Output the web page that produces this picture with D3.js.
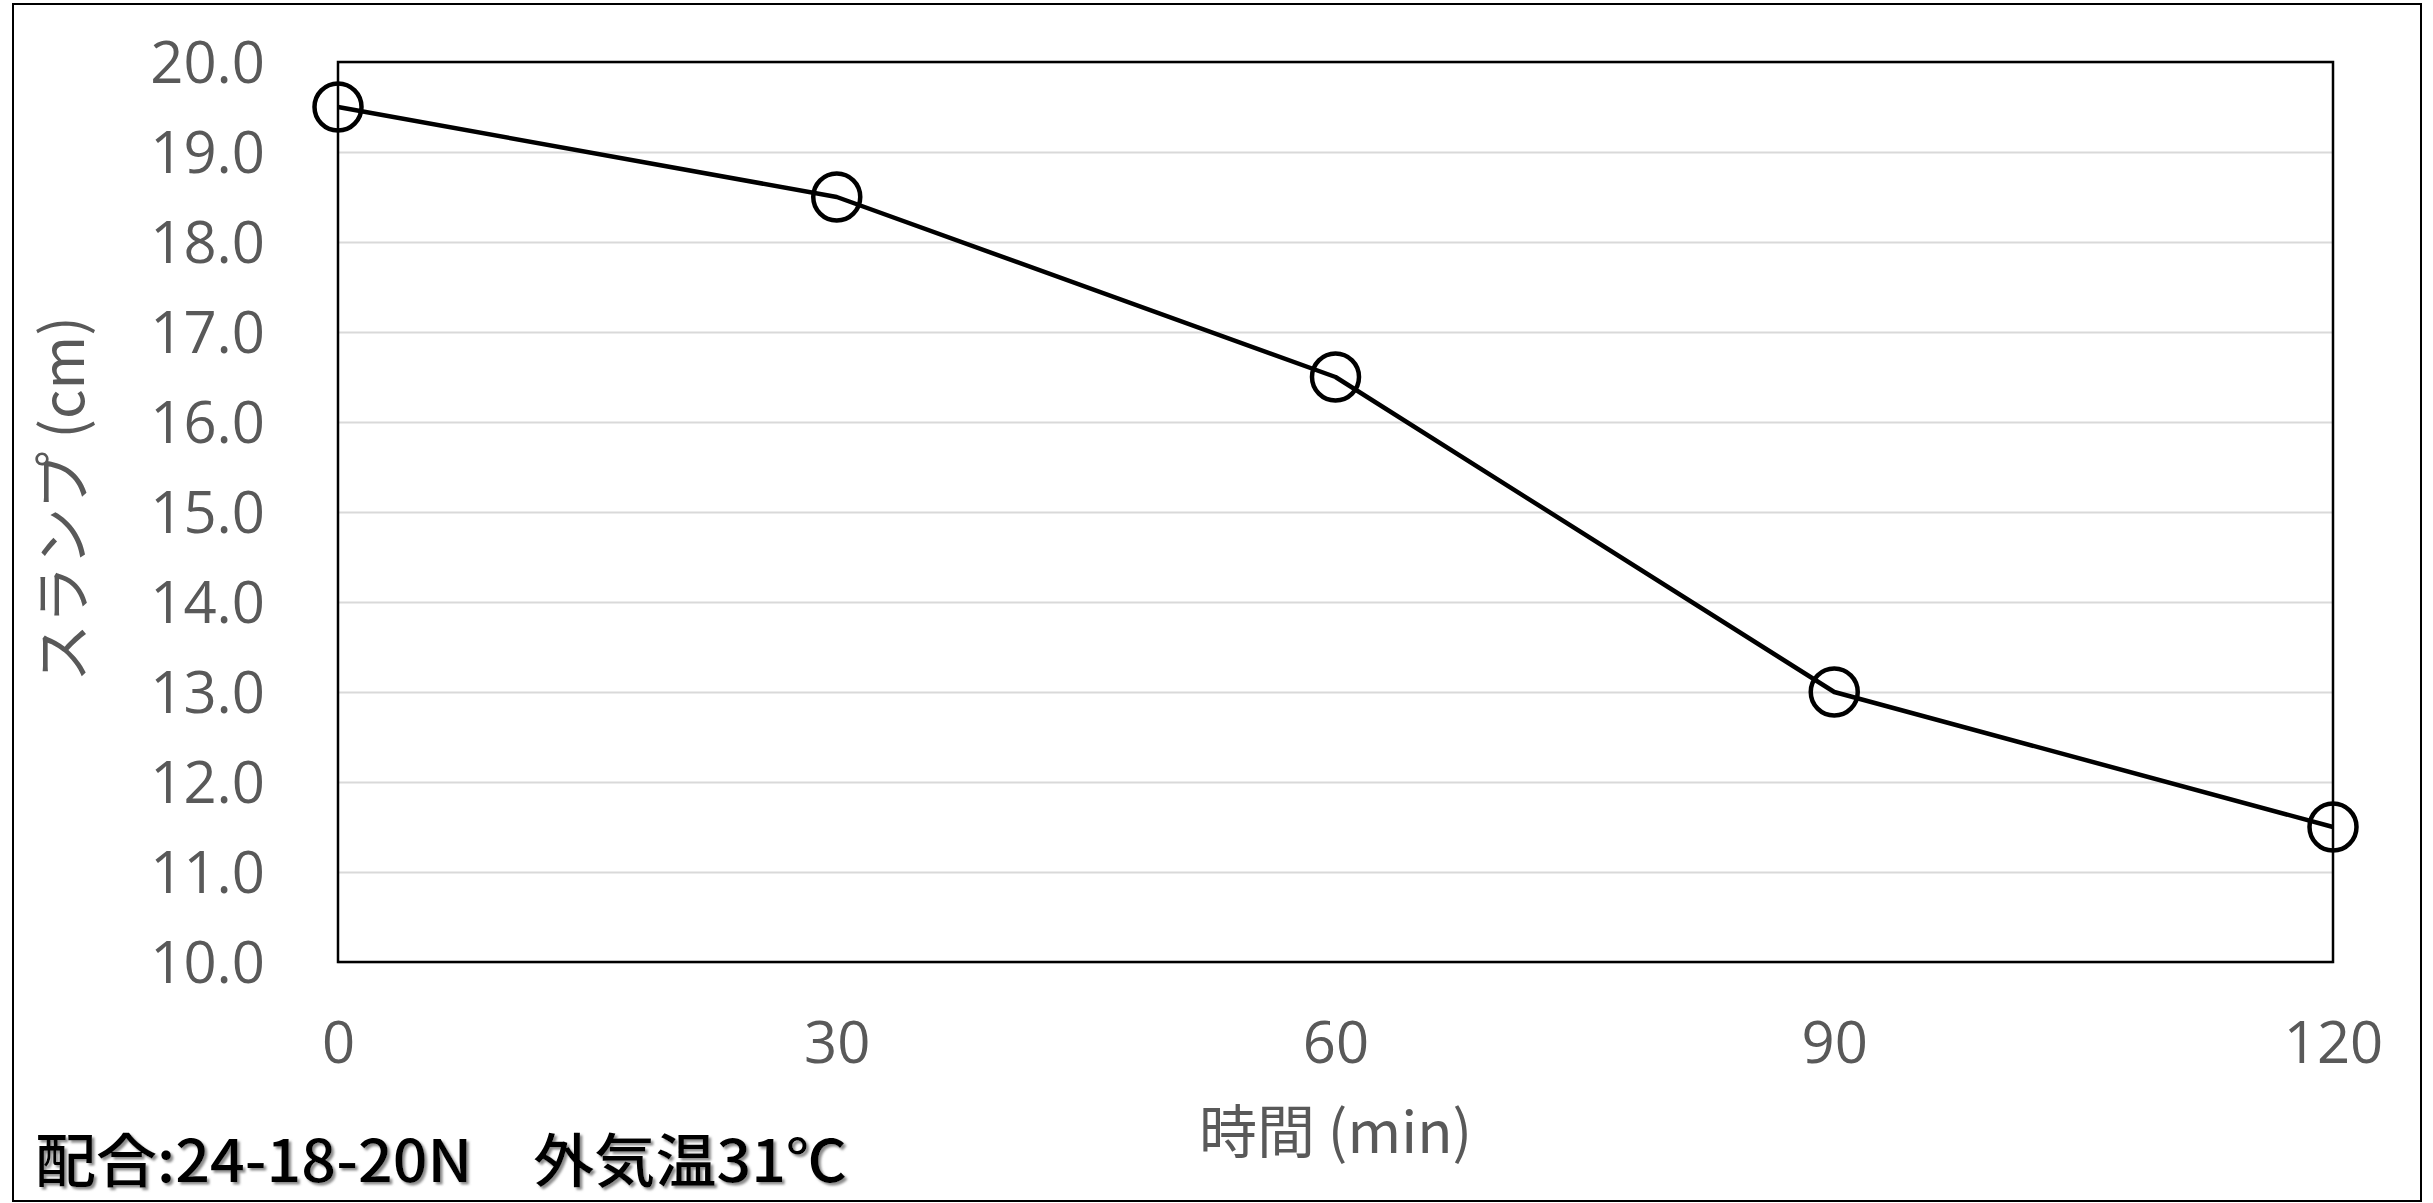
<!DOCTYPE html>
<html>
<head>
<meta charset="utf-8">
<script src="https://cdn.jsdelivr.net/npm/d3@7"></script>
<style>
  html, body { margin: 0; padding: 0; background: #fff; }
  svg { display: block; }
</style>
</head>
<body>
<svg id="chart" width="2433" height="1203"></svg>
<script>
// Slump loss over time
const times = [0, 30, 60, 90, 120];
const slump = [19.5, 18.5, 16.5, 13.0, 11.5];
const xTicks = [0, 30, 60, 90, 120];
const yTicks = [10, 11, 12, 13, 14, 15, 16, 17, 18, 19, 20];
const xTitle = "時間 (min)";
const yTitle = "スランプ (cm)";
const note = "配合:24-18-20N　外気温31℃";

const svg = d3.select("#chart");
const plot = { left: 338, right: 2333, top: 62, bottom: 962 };

const x = d3.scaleLinear().domain([0, 120]).range([plot.left, plot.right]);
const y = d3.scaleLinear().domain([10, 20]).range([plot.bottom, plot.top]);

const tickFont = "'Open Sans', 'Noto Sans', sans-serif";
const cjkFont = "'Noto Sans CJK JP', 'Noto Sans', sans-serif";
const grey = "#595959";

// outer frame
svg.append("rect")
  .attr("x", 13).attr("y", 4)
  .attr("width", 2408).attr("height", 1197)
  .attr("fill", "#fff").attr("stroke", "#000").attr("stroke-width", 2);

// horizontal gridlines and y labels
const yAxis = d3.axisLeft(y).tickValues(yTicks).tickSize(0).tickPadding(0)
  .tickFormat(d3.format(".1f"));
const gy = svg.append("g").attr("transform", `translate(${plot.left},0)`).call(yAxis);
gy.select(".domain").remove();
gy.selectAll(".tick").append("line")
  .attr("x1", 0).attr("x2", plot.right - plot.left)
  .attr("stroke", "#d9d9d9").attr("stroke-width", 2);
gy.selectAll(".tick text")
  .attr("x", -73).attr("dy", "0.36em")
  .attr("fill", grey)
  .style("font-family", tickFont).style("font-size", "58px");

// plot-area border
svg.append("rect")
  .attr("x", plot.left).attr("y", plot.top)
  .attr("width", plot.right - plot.left).attr("height", plot.bottom - plot.top)
  .attr("fill", "none").attr("stroke", "#000").attr("stroke-width", 2.5);

// x axis labels
const xAxis = d3.axisBottom(x).tickValues(xTicks).tickSize(0).tickPadding(0)
  .tickFormat(d3.format("d"));
const gx = svg.append("g").attr("transform", `translate(0,${plot.bottom})`).call(xAxis);
gx.select(".domain").remove();
gx.selectAll(".tick text")
  .attr("y", 101).attr("dy", 0)
  .attr("fill", grey)
  .style("font-family", tickFont).style("font-size", "58px");

// axis titles
svg.append("text")
  .attr("x", (plot.left + plot.right) / 2).attr("y", 1153)
  .attr("text-anchor", "middle")
  .attr("fill", grey)
  .style("font-family", cjkFont).style("font-size", "58px")
  .text(xTitle);

svg.append("text")
  .attr("transform", `translate(84,499) rotate(-90)`)
  .attr("text-anchor", "middle")
  .attr("fill", grey)
  .style("font-family", cjkFont).style("font-size", "58px")
  .text(yTitle);

// series line
const pts = times.map((t, i) => [t, slump[i]]);
svg.append("path")
  .datum(pts)
  .attr("fill", "none")
  .attr("stroke", "#000")
  .attr("stroke-width", 4.5)
  .attr("stroke-linejoin", "round")
  .attr("d", d3.line().x(d => x(d[0])).y(d => y(d[1])));

// open circle markers
svg.append("g").selectAll("circle")
  .data(pts)
  .join("circle")
  .attr("cx", d => x(d[0]))
  .attr("cy", d => y(d[1]))
  .attr("r", 23.5)
  .attr("fill", "none")
  .attr("stroke", "#000")
  .attr("stroke-width", 4.5);

// mix annotation with soft shadow
const defs = svg.append("defs");
const f = defs.append("filter").attr("id", "shadow")
  .attr("x", "-5%").attr("y", "-20%").attr("width", "110%").attr("height", "150%");
f.append("feDropShadow")
  .attr("dx", 2.5).attr("dy", 2.5).attr("stdDeviation", 1.2)
  .attr("flood-color", "#7f7f7f").attr("flood-opacity", 0.9);

svg.append("text")
  .attr("x", 35).attr("y", 1182)
  .attr("fill", "#000")
  .attr("filter", "url(#shadow)")
  .attr("textLength", 812)
  .attr("lengthAdjust", "spacingAndGlyphs")
  .style("font-family", cjkFont).style("font-size", "58px").style("font-weight", 500)
  .text(note);
</script>
</body>
</html>
